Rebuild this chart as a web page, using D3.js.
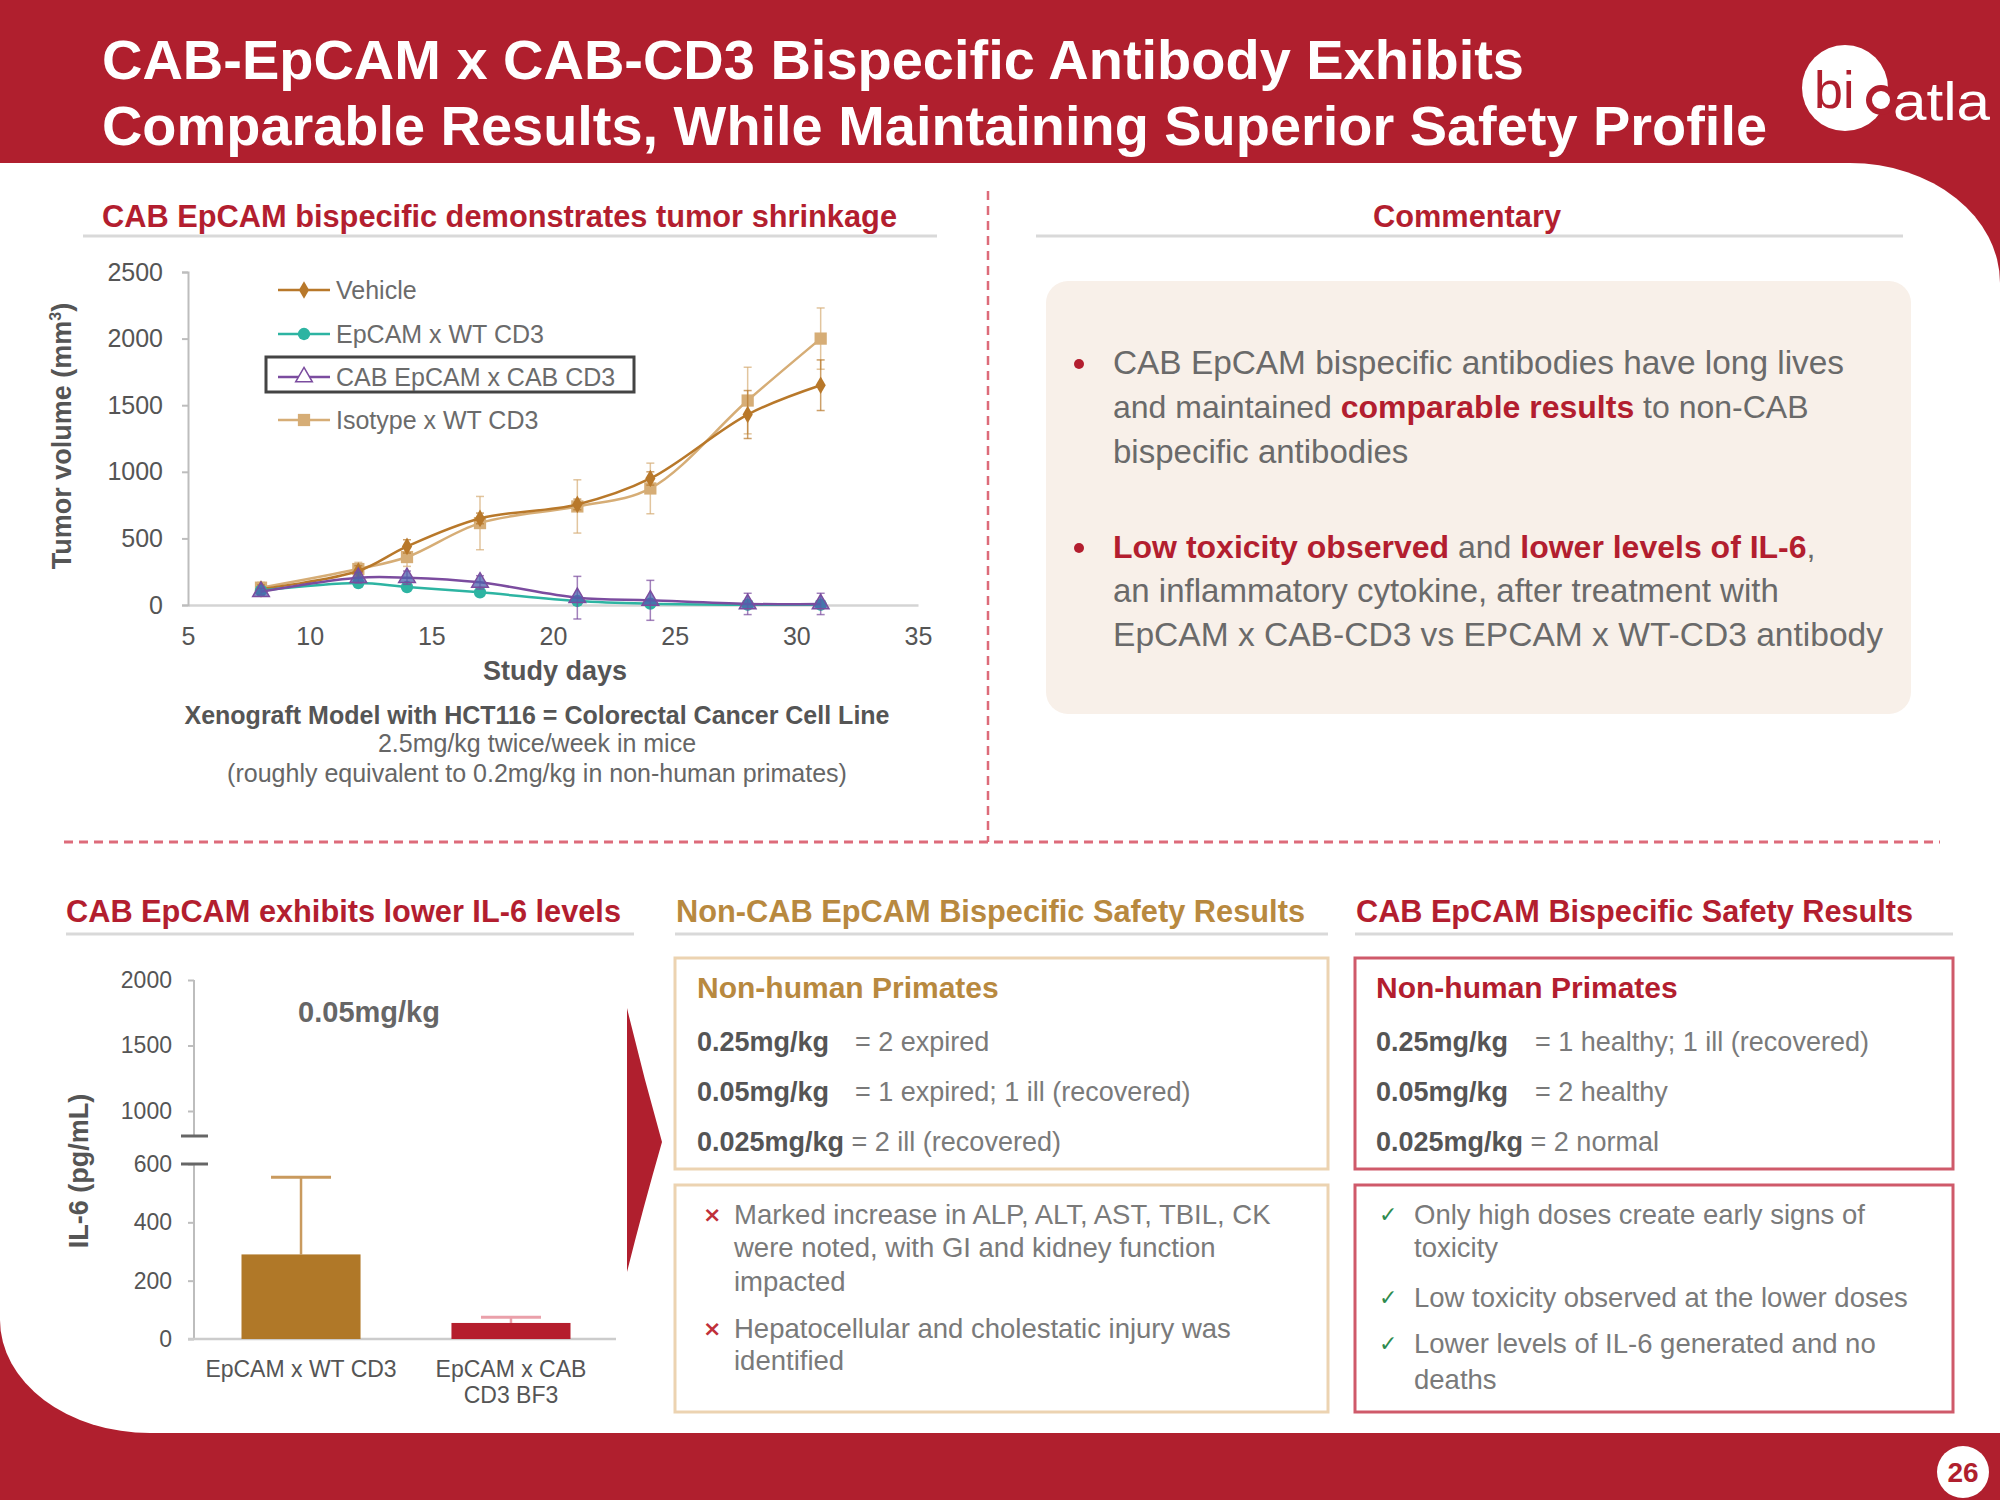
<!DOCTYPE html>
<html><head><meta charset="utf-8">
<script src="https://cdn.jsdelivr.net/npm/d3@7"></script>
<style>
body{margin:0;background:#fff}
svg{display:block}
text{font-family:"Liberation Sans",Arial,Helvetica,sans-serif}
</style>
</head><body>
<svg id="c" width="2000" height="1500"></svg>
<script>
// ---------- DATA ----------
const days = [8, 12, 14, 17, 21, 24, 28, 31];
const seriesNames = ["Vehicle", "EpCAM x WT CD3", "CAB EpCAM x CAB CD3", "Isotype x WT CD3"];
const vehicle     = [120, 255, 440, 650, 755, 950, 1430, 1650];
const vehicleErr  = [30, 40, 50, 40, 40, 50, 180, 190];
const epcamWt     = [108, 165, 135, 95, 30, 10, 2, 2];
const epcamWtErr  = [20, 30, 30, 30, 20, 15, 10, 10];
const cabCab      = [100, 205, 205, 170, 55, 35, 8, 8];
const cabCabErr   = [25, 40, 50, 50, 160, 150, 80, 80];
const isotype     = [130, 270, 360, 615, 740, 875, 1535, 2000];
const isotypeErr  = [40, 50, 70, 200, 200, 190, 250, 230];
const tumorYTicks = [0, 500, 1000, 1500, 2000, 2500];
const tumorXTicks = [5, 10, 15, 20, 25, 30, 35];

const il6Categories = ["EpCAM x WT CD3", "EpCAM x CAB CD3 BF3"];
const il6Labels = [["EpCAM x WT CD3"], ["EpCAM x CAB", "CD3 BF3"]];
const il6Values = [290, 55];
const il6Err = [265, 20];
const il6LowTicks = [0, 200, 400, 600];
const il6HighTicks = [1000, 1500, 2000];

// ---------- SETUP ----------
const RED = "#b01f2e", HRED = "#b31e2f", GOLD = "#b8893f";
const fmt = d3.format("d");
const svg = d3.select("#c");
svg.append("rect").attr("width", 2000).attr("height", 1500).attr("fill", RED);
svg.append("path").attr("d", "M0,163 H1850 A150,120 0 0 1 2000,283 V1433 H150 A150,113 0 0 1 0,1320 Z").attr("fill", "#fff");

function T(x, y, s, o = {}) {
  const t = svg.append("text").attr("x", x).attr("y", y).text(s)
    .attr("font-size", o.size || 25).attr("fill", o.fill || "#666")
    .attr("font-weight", o.bold ? "bold" : "normal")
    .attr("text-anchor", o.anchor || "start");
  if (o.len) t.attr("textLength", o.len).attr("lengthAdjust", "spacingAndGlyphs");
  if (o.family) t.style("font-family", o.family);
  return t;
}
function M(x, y, parts, size) {
  const t = svg.append("text").attr("x", x).attr("y", y).attr("font-size", size);
  parts.forEach(p => t.append("tspan").text(p[0]).attr("font-weight", p[1] ? "bold" : "normal").attr("fill", p[2]));
  return t;
}
function hline(x1, x2, y, c, w) {
  svg.append("line").attr("x1", x1).attr("x2", x2).attr("y1", y).attr("y2", y).attr("stroke", c).attr("stroke-width", w);
}

// ---------- HEADER ----------
T(102, 79, "CAB-EpCAM x CAB-CD3 Bispecific Antibody Exhibits", {size: 56, bold: true, fill: "#fff", len: 1422});
T(102, 145, "Comparable Results, While Maintaining Superior Safety Profile", {size: 56, bold: true, fill: "#fff", len: 1665});
svg.append("circle").attr("cx", 1845).attr("cy", 88).attr("r", 43).attr("fill", "#fff");
T(1814, 108, "bi", {size: 52, fill: RED});
svg.append("circle").attr("cx", 1881).attr("cy", 100).attr("r", 12).attr("fill", "#fff").attr("stroke", RED).attr("stroke-width", 6);
T(1893, 120, "atla", {size: 54, fill: "#fff", len: 97});

// page number
svg.append("circle").attr("cx", 1963).attr("cy", 1472).attr("r", 26).attr("fill", "#fff");
T(1963, 1482, "26", {size: 28, bold: true, fill: RED, anchor: "middle"});

// dashed separators
svg.append("line").attr("x1", 988).attr("x2", 988).attr("y1", 191).attr("y2", 842)
  .attr("stroke", "#dd6b7a").attr("stroke-width", 2.5).attr("stroke-dasharray", "9,6");
svg.append("line").attr("x1", 64).attr("x2", 1940).attr("y1", 842).attr("y2", 842)
  .attr("stroke", "#dd6b7a").attr("stroke-width", 3).attr("stroke-dasharray", "9,6");

// ---------- SECTION TITLES ----------
T(102, 227, "CAB EpCAM bispecific demonstrates tumor shrinkage", {size: 31, bold: true, fill: HRED, len: 795});
hline(83, 937, 236, "#d9d9d9", 3);
T(1467, 227, "Commentary", {size: 31, bold: true, fill: HRED, anchor: "middle", len: 188});
hline(1036, 1903, 236, "#d9d9d9", 3);
T(66, 922, "CAB EpCAM exhibits lower IL-6 levels", {size: 31, bold: true, fill: HRED, len: 555});
hline(66, 634, 934, "#d9d9d9", 3);
T(676, 922, "Non-CAB EpCAM Bispecific Safety Results", {size: 31, bold: true, fill: GOLD, len: 629});
hline(675, 1328, 934, "#d9d9d9", 3);
T(1356, 922, "CAB EpCAM Bispecific Safety Results", {size: 31, bold: true, fill: HRED, len: 557});
hline(1355, 1953, 934, "#d9d9d9", 3);

// ---------- TUMOR CHART ----------
const x = d3.scaleLinear().domain([5, 35]).range([188, 918]);
const y = d3.scaleLinear().domain([0, 2500]).range([605, 272]);

const gx = svg.append("g").attr("transform", "translate(0,605)")
  .call(d3.axisBottom(x).tickValues(tumorXTicks).tickFormat(fmt).tickSize(0).tickPadding(22));
gx.select(".domain").attr("stroke", "#d4d4d4").attr("stroke-width", 2.5);
gx.selectAll("text").attr("font-size", 25).attr("fill", "#555").style("font-family", "Liberation Sans, Arial");

const gy = svg.append("g").attr("transform", "translate(188,0)")
  .call(d3.axisLeft(y).tickValues(tumorYTicks).tickFormat(fmt).tickSize(6).tickPadding(19));
gy.select(".domain").attr("stroke", "#bdbdbd").attr("stroke-width", 2);
gy.selectAll(".tick line").attr("stroke", "#bdbdbd").attr("stroke-width", 2);
gy.selectAll("text").attr("font-size", 25).attr("fill", "#555").style("font-family", "Liberation Sans, Arial");

T(555, 680, "Study days", {size: 27, bold: true, fill: "#555", anchor: "middle"});
const yt = svg.append("text").attr("transform", "translate(71,436) rotate(-90)")
  .attr("text-anchor", "middle").attr("font-size", 27).attr("font-weight", "bold").attr("fill", "#555");
yt.append("tspan").text("Tumor volume (mm");
yt.append("tspan").text("3").attr("font-size", 16).attr("dy", -10);
yt.append("tspan").text(")").attr("dy", 10);

const series = [
  {name: seriesNames[3], vals: isotype, err: isotypeErr, color: "#d6ad76", sym: d3.symbolSquare, size: 150},
  {name: seriesNames[0], vals: vehicle, err: vehicleErr, color: "#b8782a", sym: d3.symbolDiamond, size: 90},
  {name: seriesNames[1], vals: epcamWt, err: epcamWtErr, color: "#2db4a2", sym: d3.symbolCircle, size: 120},
  {name: seriesNames[2], vals: cabCab, err: cabCabErr, color: "#7b4c9f", sym: d3.symbolTriangle, size: 120}
];
const line = d3.line().x(d => x(d[0])).y(d => y(d[1])).curve(d3.curveCatmullRom.alpha(0.5));

series.forEach(s => {
  const pts = days.map((d, i) => [d, s.vals[i], s.err[i]]);
  const g = svg.append("g");
  pts.forEach(p => {
    const cx = x(p[0]), t = y(p[1] + p[2]), b = y(p[1] - p[2]);
    g.append("line").attr("x1", cx).attr("x2", cx).attr("y1", t).attr("y2", b)
      .attr("stroke", s.color).attr("stroke-width", 1.5).attr("opacity", 0.7);
    [t, b].forEach(yy => g.append("line").attr("x1", cx - 4).attr("x2", cx + 4).attr("y1", yy).attr("y2", yy)
      .attr("stroke", s.color).attr("stroke-width", 1.5).attr("opacity", 0.7));
  });
  g.append("path").attr("d", line(pts)).attr("fill", "none").attr("stroke", s.color).attr("stroke-width", 2.5);
  pts.forEach(p => {
    g.append("path").attr("d", d3.symbol().type(s.sym).size(s.size)())
      .attr("transform", `translate(${x(p[0])},${y(p[1])})`)
      .attr("fill", s.sym === d3.symbolTriangle ? "#4d62ad" : s.color)
      .attr("fill-opacity", s.sym === d3.symbolTriangle ? 0.75 : 1)
      .attr("stroke", s.sym === d3.symbolTriangle ? s.color : "none").attr("stroke-width", 1.5);
  });
});

// legend
const legendOrder = [1, 2, 3, 0];
const legY = [290, 334, 377, 420];
svg.append("rect").attr("x", 266).attr("y", 357).attr("width", 368).attr("height", 35)
  .attr("fill", "none").attr("stroke", "#444").attr("stroke-width", 3);
legendOrder.forEach((si, k) => {
  const s = series[si], yy = legY[k];
  svg.append("line").attr("x1", 278).attr("x2", 330).attr("y1", yy).attr("y2", yy).attr("stroke", s.color).attr("stroke-width", 2.5);
  svg.append("path").attr("d", d3.symbol().type(s.sym).size(s.size)())
    .attr("transform", `translate(304,${yy})`)
    .attr("fill", s.sym === d3.symbolTriangle ? "#fff" : s.color)
    .attr("stroke", s.sym === d3.symbolTriangle ? s.color : "none").attr("stroke-width", 1.5);
  T(336, yy + 9, s.name, {size: 25, fill: "#6b6b6b"});
});

T(537, 724, "Xenograft Model with HCT116 = Colorectal Cancer Cell Line", {size: 25, bold: true, fill: "#555", anchor: "middle"});
T(537, 752, "2.5mg/kg twice/week in mice", {size: 25, fill: "#666", anchor: "middle"});
T(537, 782, "(roughly equivalent to 0.2mg/kg in non-human primates)", {size: 25, fill: "#666", anchor: "middle"});

// ---------- COMMENTARY ----------
svg.append("rect").attr("x", 1046).attr("y", 281).attr("width", 865).attr("height", 433).attr("rx", 22)
  .attr("fill", "#f8f0e9");
[364, 548].forEach(cy => svg.append("circle").attr("cx", 1079).attr("cy", cy).attr("r", 5).attr("fill", HRED));
const CG = "#6a6a6a";
T(1113, 374, "CAB EpCAM bispecific antibodies have long lives", {size: 33, fill: CG, len: 731});
M(1113, 418, [["and maintained ", false, CG], ["comparable results", true, HRED], [" to non-CAB", false, CG]], 32);
T(1113, 463, "bispecific antibodies", {size: 33, fill: CG});
M(1113, 558, [["Low toxicity observed", true, HRED], [" and ", false, CG], ["lower levels of IL-6", true, HRED], [",", false, CG]], 32);
T(1113, 602, "an inflammatory cytokine, after treatment with", {size: 33, fill: CG});
T(1113, 646, "EpCAM x CAB-CD3 vs EPCAM x WT-CD3 antibody", {size: 33, fill: CG, len: 770});

// ---------- IL-6 BAR CHART ----------
const yLow = d3.scaleLinear().domain([0, 600]).range([1339, 1164]);
const yHigh = d3.scaleLinear().domain([1000, 2000]).range([1111, 980]);
const xb = d3.scaleBand().domain(il6Categories).range([196, 616]).paddingInner(0.433).paddingOuter(0.2167);
const AX = 194;
[[yLow, il6LowTicks], [yHigh, il6HighTicks]].forEach(([sc, tv]) => {
  const g = svg.append("g").attr("transform", `translate(${AX},0)`)
    .call(d3.axisLeft(sc).tickValues(tv).tickFormat(fmt).tickSize(6).tickPadding(16));
  g.select(".domain").remove();
  g.selectAll(".tick line").attr("stroke", "#bdbdbd").attr("stroke-width", 2);
  g.selectAll("text").attr("font-size", 23).attr("fill", "#555").style("font-family", "Liberation Sans, Arial");
});
svg.append("line").attr("x1", AX).attr("x2", AX).attr("y1", yHigh(2000)).attr("y2", 1136).attr("stroke", "#bdbdbd").attr("stroke-width", 2);
svg.append("line").attr("x1", AX).attr("x2", AX).attr("y1", 1164).attr("y2", yLow(0)).attr("stroke", "#bdbdbd").attr("stroke-width", 2);
hline(181, 208, 1136, "#666", 3);
hline(181, 208, 1164, "#666", 3);
hline(188, 616, yLow(0), "#cccccc", 2.5);

const barColors = ["#b07828", "#b51e2d"];
const errColors = ["#c99a5e", "#eaa0aa"];
il6Categories.forEach((c, i) => {
  const bx = xb(c), bw = xb.bandwidth(), cx = bx + bw / 2;
  const top = yLow(il6Values[i] + il6Err[i]);
  svg.append("line").attr("x1", cx).attr("x2", cx).attr("y1", yLow(il6Values[i])).attr("y2", top)
    .attr("stroke", errColors[i]).attr("stroke-width", 2.5);
  hline(cx - 30, cx + 30, top, errColors[i], 3);
  svg.append("rect").attr("x", bx).attr("y", yLow(il6Values[i])).attr("width", bw)
    .attr("height", yLow(0) - yLow(il6Values[i])).attr("fill", barColors[i]);
  il6Labels[i].forEach((ln, k) => T(cx, 1377 + k * 26, ln, {size: 23, fill: "#555", anchor: "middle"}));
});
T(369, 1022, "0.05mg/kg", {size: 29, bold: true, fill: "#666", anchor: "middle"});
svg.append("text").attr("transform", "translate(88,1171) rotate(-90)")
  .attr("text-anchor", "middle").attr("font-size", 27).attr("font-weight", "bold").attr("fill", "#555").text("IL-6 (pg/mL)");

svg.append("path").attr("d", "M627,1008 Q643,1075 662,1142 Q643,1208 627,1272 Z").attr("fill", RED);

// ---------- SAFETY BOXES ----------
function box(x0, y0, w, h, c) {
  svg.append("rect").attr("x", x0).attr("y", y0).attr("width", w).attr("height", h)
    .attr("fill", "#fff").attr("stroke", c).attr("stroke-width", 3);
}
const BG = "#555", RG = "#7a7a7a";
box(675, 958, 653, 211, "#ecd3b1");
box(675, 1185, 653, 227, "#ecd3b1");
box(1355, 958, 598, 211, "#cf5a6a");
box(1355, 1185, 598, 227, "#cf5a6a");

T(697, 998, "Non-human Primates", {size: 30, bold: true, fill: GOLD});
T(697, 1051, "0.25mg/kg", {size: 27, bold: true, fill: BG}); T(855, 1051, "= 2 expired", {size: 27, fill: RG});
T(697, 1101, "0.05mg/kg", {size: 27, bold: true, fill: BG}); T(855, 1101, "= 1 expired; 1 ill (recovered)", {size: 27, fill: RG});
M(697, 1151, [["0.025mg/kg", true, BG], [" = 2 ill (recovered)", false, RG]], 27);

T(1376, 998, "Non-human Primates", {size: 30, bold: true, fill: HRED});
T(1376, 1051, "0.25mg/kg", {size: 27, bold: true, fill: BG}); T(1535, 1051, "= 1 healthy; 1 ill (recovered)", {size: 27, fill: RG});
T(1376, 1101, "0.05mg/kg", {size: 27, bold: true, fill: BG}); T(1535, 1101, "= 2 healthy", {size: 27, fill: RG});
M(1376, 1151, [["0.025mg/kg", true, BG], [" = 2 normal", false, RG]], 27);

const leftBullets = [["Marked increase in ALP, ALT, AST, TBIL, CK", "were noted, with GI and kidney function", "impacted"],
                     ["Hepatocellular and cholestatic injury was", "identified"]];
const leftY = [[1224, 1257, 1291], [1338, 1370]];
leftBullets.forEach((b, i) => {
  T(703, leftY[i][0] - 2, "×", {size: 22, bold: true, fill: "#c0303a", family: "DejaVu Sans"});
  b.forEach((ln, k) => T(734, leftY[i][k], ln, {size: 27.5, fill: RG}));
});
const rightBullets = [["Only high doses create early signs of", "toxicity"], ["Low toxicity observed at the lower doses"],
                      ["Lower levels of IL-6 generated and no", "deaths"]];
const rightY = [[1224, 1257], [1307], [1353, 1389]];
rightBullets.forEach((b, i) => {
  T(1379, rightY[i][0] - 2, "✓", {size: 22, fill: "#2e8b4e", family: "DejaVu Sans"});
  b.forEach((ln, k) => T(1414, rightY[i][k], ln, {size: 27.5, fill: RG}));
});
</script>
</body></html>
